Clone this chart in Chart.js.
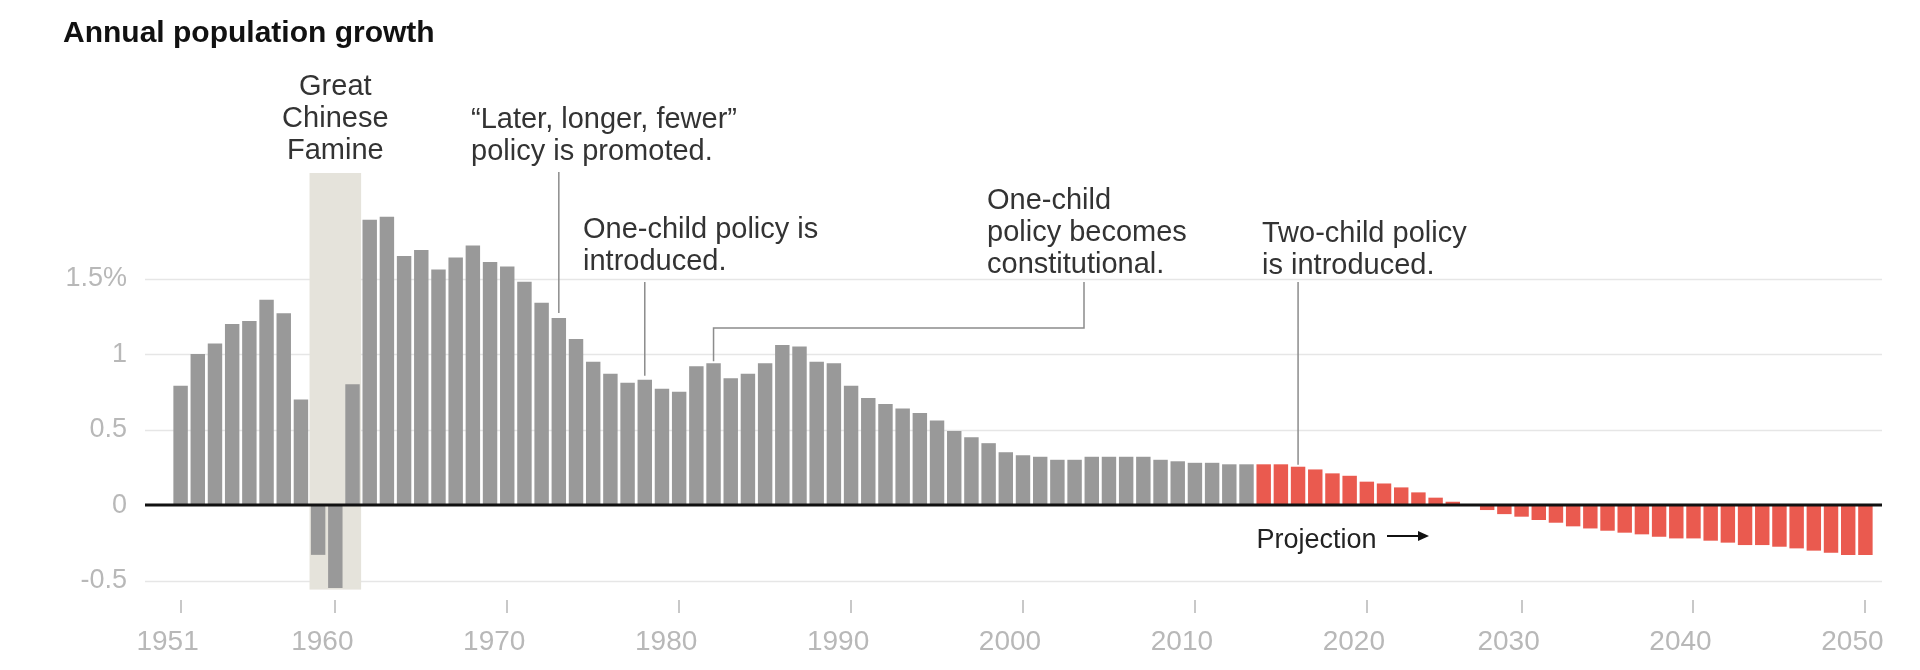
<!DOCTYPE html>
<html>
<head>
<meta charset="utf-8">
<title>Annual population growth</title>
<script src="https://cdn.jsdelivr.net/npm/chart.js@4.4.1/dist/chart.umd.min.js"></script>
<style>
    html, body { margin: 0; padding: 0; background: #fff; }
    #wrap { width: 1920px; height: 670px; }
</style>
</head>
<body>
<div id="wrap"><canvas id="growthChart" width="1920" height="670"></canvas></div>
<script>
// Data (percent per year)
// Note: the source axis has one year fewer between 2020 and 2030
const historicalYears = [
    '1951', '1952', '1953', '1954', '1955', '1956', '1957', '1958', '1959', '1960',
    '1961', '1962', '1963', '1964', '1965', '1966', '1967', '1968', '1969', '1970',
    '1971', '1972', '1973', '1974', '1975', '1976', '1977', '1978', '1979', '1980',
    '1981', '1982', '1983', '1984', '1985', '1986', '1987', '1988', '1989', '1990',
    '1991', '1992', '1993', '1994', '1995', '1996', '1997', '1998', '1999', '2000',
    '2001', '2002', '2003', '2004', '2005', '2006', '2007', '2008', '2009', '2010',
    '2011', '2012', '2013'
];
const historicalGrowth = [
    0.79, 1.00, 1.07, 1.20, 1.22, 1.36, 1.27, 0.70, -0.33, -0.55,
    0.80, 1.89, 1.91, 1.65, 1.69, 1.56, 1.64, 1.72, 1.61, 1.58,
    1.48, 1.34, 1.24, 1.10, 0.95, 0.87, 0.81, 0.83, 0.77, 0.75,
    0.92, 0.94, 0.84, 0.87, 0.94, 1.06, 1.05, 0.95, 0.94, 0.79,
    0.71, 0.67, 0.64, 0.61, 0.56, 0.49, 0.45, 0.41, 0.35, 0.33,
    0.32, 0.30, 0.30, 0.32, 0.32, 0.32, 0.32, 0.30, 0.29, 0.28,
    0.28, 0.27, 0.27
];
const projectionYears = [
    '2014', '2015', '2016', '2017', '2018', '2019', '2020',
    '2021', '2022', '2023', '2024', '2025', '2026', '2027', '2028',
    '2030', '2031', '2032', '2033', '2034', '2035', '2036', '2037', '2038', '2039', '2040',
    '2041', '2042', '2043', '2044', '2045', '2046', '2047', '2048', '2049', '2050'
];
const projectionGrowth = [
    0.27, 0.27, 0.254, 0.236, 0.21, 0.194, 0.155,
    0.143, 0.117, 0.084, 0.049, 0.022, 0.0, -0.033, -0.06,
    -0.077, -0.099, -0.117, -0.141, -0.155, -0.17, -0.183, -0.194, -0.21, -0.221, -0.221,
    -0.236, -0.249, -0.265, -0.265, -0.276, -0.287, -0.302, -0.316, -0.331, -0.331
];
const yTicks = [-0.5, 0, 0.5, 1, 1.5];
const labeledYears = ['1951', '1960', '1970', '1980', '1990', '2000', '2010', '2020', '2030', '2040', '2050'];

const allYears = historicalYears.concat(projectionYears);
const allGrowth = historicalGrowth.concat(projectionGrowth);
const barColors = historicalGrowth.map(() => '#999999').concat(projectionGrowth.map(() => '#ea5a4f'));

const FONT = '"Liberation Sans", Arial, sans-serif';

// Notes above the bars
const notes = [
    { lines: ['“Later, longer, fewer”', 'policy is promoted.'], x: 471, y: 128 },
    { lines: ['One-child policy is', 'introduced.'], x: 583, y: 238 },
    { lines: ['One-child', 'policy becomes', 'constitutional.'], x: 987, y: 209 },
    { lines: ['Two-child policy', 'is introduced.'], x: 1262, y: 242 }
];

function drawLines(ctx, lines, x, y, align) {
    ctx.textAlign = align || 'left';
    lines.forEach((line, i) => ctx.fillText(line, x, y + i * 32));
}

const overlayPlugin = {
    id: 'overlay',
    beforeDatasetsDraw(chart) {
        const { ctx, chartArea, scales: { x, y } } = chart;
        const step = x.getPixelForValue(1) - x.getPixelForValue(0);
        ctx.save();

        // Gridlines run a little past the bars
        ctx.strokeStyle = '#e6e6e6';
        ctx.lineWidth = 1.5;
        yTicks.forEach(v => {
            if (v === 0) return;
            const py = Math.round(y.getPixelForValue(v)) + 0.5;
            ctx.beginPath();
            ctx.moveTo(145, py);
            ctx.lineTo(1882, py);
            ctx.stroke();
        });

        // Famine band, 1959-1961
        const left = x.getPixelForValue(allYears.indexOf('1959')) - step / 2;
        const right = x.getPixelForValue(allYears.indexOf('1961')) + step / 2;
        const bottom = y.getPixelForValue(-0.56);
        ctx.fillStyle = '#e5e3db';
        ctx.fillRect(left, chartArea.top, right - left, bottom - chartArea.top);
        ctx.restore();
    },
    afterDatasetsDraw(chart) {
        const { ctx, scales: { x, y } } = chart;
        const px = year => x.getPixelForValue(allYears.indexOf(year));
        const barTop = year => y.getPixelForValue(allGrowth[allYears.indexOf(year)]);
        ctx.save();

        // Zero line
        const zero = y.getPixelForValue(0);
        ctx.strokeStyle = '#111';
        ctx.lineWidth = 3;
        ctx.beginPath();
        ctx.moveTo(145, zero);
        ctx.lineTo(1882, zero);
        ctx.stroke();

        // Leader lines
        ctx.strokeStyle = '#8c8c8c';
        ctx.lineWidth = 1.5;
        ctx.beginPath();
        ctx.moveTo(px('1973'), 172);
        ctx.lineTo(px('1973'), barTop('1973') - 5);
        ctx.moveTo(px('1978'), 282);
        ctx.lineTo(px('1978'), barTop('1978') - 4);
        ctx.moveTo(px('1982'), barTop('1982') - 2);
        ctx.lineTo(px('1982'), 328);
        ctx.lineTo(1084, 328);
        ctx.lineTo(1084, 282);
        ctx.moveTo(px('2016'), 282);
        ctx.lineTo(px('2016'), barTop('2016') - 2);
        ctx.stroke();

        // Annotation text
        ctx.fillStyle = '#333';
        ctx.font = '29px ' + FONT;
        ctx.textBaseline = 'alphabetic';
        const step = x.getPixelForValue(1) - x.getPixelForValue(0);
        const famineX = (px('1959') + px('1961')) / 2;
        drawLines(ctx, ['Great', 'Chinese', 'Famine'], famineX, 95, 'center');
        notes.forEach(n => drawLines(ctx, n.lines, n.x, n.y));

        // Projection label and arrow
        const projLeft = px(projectionYears[0]) - step * 0.42;
        ctx.fillStyle = '#222';
        ctx.font = '27px ' + FONT;
        ctx.textAlign = 'left';
        ctx.fillText('Projection', projLeft, 548);
        ctx.strokeStyle = '#111';
        ctx.lineWidth = 2;
        ctx.beginPath();
        ctx.moveTo(1387, 536);
        ctx.lineTo(1420, 536);
        ctx.stroke();
        ctx.fillStyle = '#111';
        ctx.beginPath();
        ctx.moveTo(1429, 536);
        ctx.lineTo(1418, 531);
        ctx.lineTo(1418, 541);
        ctx.closePath();
        ctx.fill();

        ctx.restore();
    },
    afterDraw(chart) {
        const ctx = chart.ctx;
        ctx.save();
        ctx.fillStyle = '#111';
        ctx.font = 'bold 30px ' + FONT;
        ctx.textAlign = 'left';
        ctx.textBaseline = 'alphabetic';
        ctx.fillText('Annual population growth', 63, 42);
        ctx.restore();
    }
};

new Chart(document.getElementById('growthChart'), {
    type: 'bar',
    data: {
        labels: allYears,
        datasets: [{
            data: allGrowth,
            backgroundColor: barColors,
            borderWidth: 0,
            barPercentage: 0.84,
            categoryPercentage: 1
        }]
    },
    options: {
        responsive: false,
        animation: false,
        devicePixelRatio: 1,
        layout: { padding: { top: 173, right: 46, left: 0, bottom: 0 } },
        plugins: {
            legend: { display: false },
            tooltip: { enabled: false }
        },
        scales: {
            x: {
                afterFit: s => { s.height = 70; },
                border: { display: false },
                grid: {
                    offset: false,
                    drawOnChartArea: false,
                    drawTicks: true,
                    tickLength: 13,
                    lineWidth: 2,
                    color: c => (c.tick && labeledYears.includes(c.tick.label)) ? '#c8c8c8' : 'rgba(0,0,0,0)'
                },
                ticks: {
                    autoSkip: false,
                    maxRotation: 0,
                    minRotation: 0,
                    padding: 12,
                    labelOffset: -13,
                    color: '#b8b8b8',
                    font: { family: FONT, size: 28 },
                    callback: (v, i) => labeledYears.includes(allYears[i]) ? allYears[i] : ''
                }
            },
            y: {
                min: -0.629,
                max: 2.2,
                afterFit: s => { s.width = 172; },
                afterBuildTicks: s => { s.ticks = yTicks.map(v => ({ value: v })); },
                border: { display: false },
                grid: { display: false },
                ticks: {
                    padding: 37,
                    color: '#b8b8b8',
                    font: { family: FONT, size: 27 },
                    callback: v => v === 1.5 ? '1.5%' : String(v)
                }
            }
        }
    },
    plugins: [overlayPlugin]
});
</script>
</body>
</html>
